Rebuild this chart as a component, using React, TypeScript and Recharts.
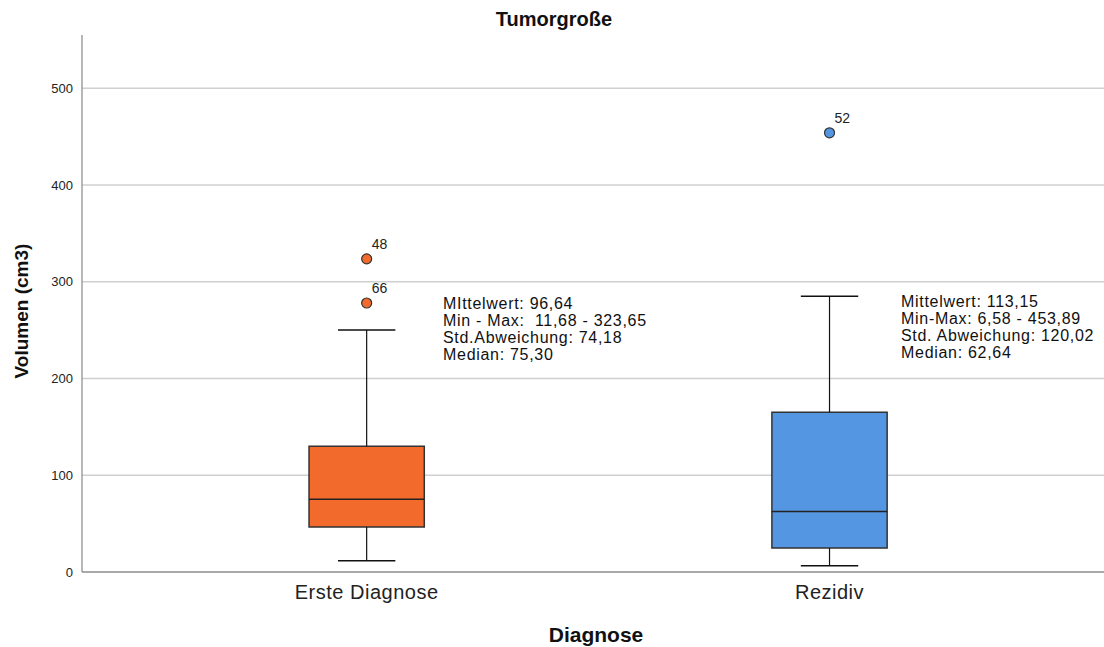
import React from 'react';
import {
  ComposedChart,
  XAxis,
  YAxis,
  CartesianGrid,
  Scatter,
  ReferenceArea,
  ReferenceLine,
  LabelList,
} from 'recharts';

const categories = ['Erste Diagnose', 'Rezidiv'];
const categoryPos = [1, 2];
const q1Values = [46.5, 24.8];
const medianValues = [75.3, 62.64];
const q3Values = [130, 165];
const whiskerLow = [11.68, 6.58];
const whiskerHigh = [250, 285];
const boxColors = ['#F26A2C', '#5596E3'];
const outliers = [
  { x: 1, y: 323.65, id: '48', color: '#F26A2C' },
  { x: 1, y: 278, id: '66', color: '#F26A2C' },
  { x: 2, y: 453.89, id: '52', color: '#5596E3' },
];
const yTicks = [0, 100, 200, 300, 400, 500];
const gridValues = [100, 200, 300, 400, 500];
const statsLines = [
  ['MIttelwert: 96,64', 'Min - Max:  11,68 - 323,65', 'Std.Abweichung: 74,18', 'Median: 75,30'],
  ['Mittelwert: 113,15', 'Min-Max: 6,58 - 453,89', 'Std. Abweichung: 120,02', 'Median: 62,64'],
];

const BOX_HALF = 0.1245;
const CAP_HALF = 0.062;
const FONT = '"Liberation Sans", Arial, sans-serif';

const OutlierDot = (props: any) => {
  const { cx, cy, payload } = props;
  return <circle cx={cx} cy={cy} r={5} fill={payload.color} stroke="#333" strokeWidth={1.2} />;
};

const OutlierLabel = (props: any) => {
  const { x, y, width, height, value } = props;
  const cx = x + (width || 0) / 2;
  const cy = y + (height || 0) / 2;
  return (
    <text x={cx + 5} y={cy - 10} fontSize={14} fill="#222" fontFamily={FONT}>
      {value}
    </text>
  );
};

export default function App() {
  return (
    <div style={{ position: 'absolute', left: 0, top: 0, width: 1104, height: 647, background: '#fff', fontFamily: FONT }}>
      <div style={{ position: 'absolute', left: 0, top: 7, width: 1108, textAlign: 'center', fontSize: 20, lineHeight: '24px', fontWeight: 'bold', color: '#111' }}>
        Tumorgroße
      </div>
      <div
        style={{
          position: 'absolute',
          left: 22,
          top: 311,
          transform: 'translate(-50%, -50%) rotate(-90deg)',
          fontSize: 19,
          fontWeight: 'bold',
          color: '#111',
          whiteSpace: 'nowrap',
        }}
      >
        Volumen (cm3)
      </div>
      <div style={{ position: 'absolute', left: 0, top: 623, width: 1192, textAlign: 'center', fontSize: 21, lineHeight: '24px', fontWeight: 'bold', color: '#111' }}>
        Diagnose
      </div>
      <ComposedChart width={1104} height={647} margin={{ top: 35, right: 0, bottom: 0, left: 0 }}>
        <CartesianGrid vertical={false} horizontalValues={gridValues} stroke="#d0d0d0" strokeWidth={1.5} />
        <XAxis
          type="number"
          dataKey="x"
          domain={[0.385, 2.593]}
          ticks={categoryPos}
          tickFormatter={(v: number) => categories[v - 1] ?? ''}
          height={75}
          tickLine={false}
          tickSize={0}
          tickMargin={13}
          axisLine={{ stroke: '#555', strokeWidth: 1.2 }}
          tick={{ fontSize: 20, fill: '#222', fontFamily: FONT, letterSpacing: 0.5 }}
          allowDataOverflow
        />
        <YAxis
          type="number"
          dataKey="y"
          domain={[0, 555]}
          ticks={yTicks}
          width={82}
          tickLine={false}
          tickSize={6}
          tickMargin={3}
          axisLine={{ stroke: '#888', strokeWidth: 1.2 }}
          tick={{ fontSize: 13, fill: '#222', fontFamily: FONT }}
          allowDataOverflow
        />
        {categoryPos.map((c, i) => (
          <ReferenceLine
            key={`wh-${i}`}
            segment={[
              { x: c, y: q3Values[i] },
              { x: c, y: whiskerHigh[i] },
            ]}
            stroke="#111"
            strokeWidth={1.2}
          />
        ))}
        {categoryPos.map((c, i) => (
          <ReferenceLine
            key={`wl-${i}`}
            segment={[
              { x: c, y: whiskerLow[i] },
              { x: c, y: q1Values[i] },
            ]}
            stroke="#111"
            strokeWidth={1.2}
          />
        ))}
        {categoryPos.map((c, i) => (
          <ReferenceLine
            key={`ch-${i}`}
            segment={[
              { x: c - CAP_HALF, y: whiskerHigh[i] },
              { x: c + CAP_HALF, y: whiskerHigh[i] },
            ]}
            stroke="#111"
            strokeWidth={1.5}
          />
        ))}
        {categoryPos.map((c, i) => (
          <ReferenceLine
            key={`cl-${i}`}
            segment={[
              { x: c - CAP_HALF, y: whiskerLow[i] },
              { x: c + CAP_HALF, y: whiskerLow[i] },
            ]}
            stroke="#111"
            strokeWidth={1.5}
          />
        ))}
        {categoryPos.map((c, i) => (
          <ReferenceArea
            key={`box-${i}`}
            x1={c - BOX_HALF}
            x2={c + BOX_HALF}
            y1={q1Values[i]}
            y2={q3Values[i]}
            fill={boxColors[i]}
            fillOpacity={1}
            stroke="#333"
            strokeWidth={1.5}
          />
        ))}
        {categoryPos.map((c, i) => (
          <ReferenceLine
            key={`med-${i}`}
            segment={[
              { x: c - BOX_HALF, y: medianValues[i] },
              { x: c + BOX_HALF, y: medianValues[i] },
            ]}
            stroke="#222"
            strokeWidth={1.5}
          />
        ))}
        <Scatter data={outliers} shape={<OutlierDot />} isAnimationActive={false}>
          <LabelList dataKey="id" content={<OutlierLabel />} />
        </Scatter>
      </ComposedChart>
      {statsLines.map((lines, i) => (
        <div
          key={`stats-${i}`}
          style={{
            position: 'absolute',
            left: i === 0 ? 443 : 901,
            top: i === 0 ? 295 : 293,
            fontSize: 16,
            lineHeight: '17px',
            letterSpacing: 0.7,
            color: '#111',
            whiteSpace: 'pre',
          }}
        >
          {lines.map((l, j) => (
            <div key={j}>{l}</div>
          ))}
        </div>
      ))}
    </div>
  );
}
